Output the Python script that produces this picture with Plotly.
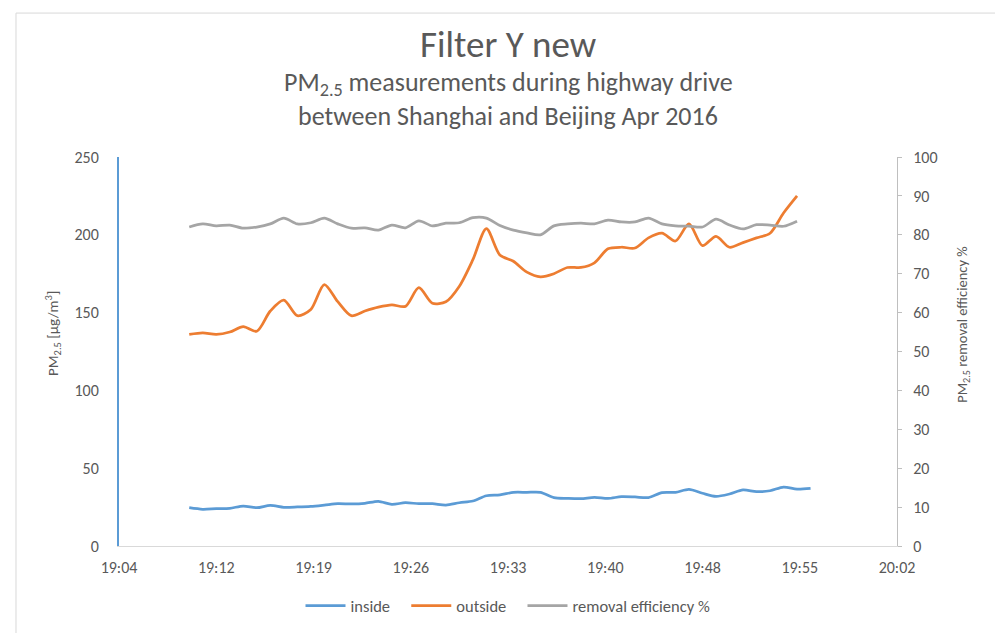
import plotly.graph_objects as go

# ---- data ----
times = ["19:10", "19:11", "19:12", "19:13", "19:14", "19:15", "19:16", "19:17", "19:18", "19:19",
         "19:20", "19:21", "19:22", "19:23", "19:24", "19:25", "19:26", "19:27", "19:28", "19:29",
         "19:30", "19:31", "19:32", "19:33", "19:34", "19:35", "19:36", "19:37", "19:38", "19:39",
         "19:40", "19:41", "19:42", "19:43", "19:44", "19:45", "19:46", "19:47", "19:48", "19:49",
         "19:50", "19:51", "19:52", "19:53", "19:54", "19:55", "19:56"]

inside = [24.6, 23.6, 24.0, 24.2, 25.7, 24.6, 26.1, 24.9, 25.1, 25.5,
          26.3, 27.2, 27.0, 27.4, 28.7, 26.8, 27.8, 27.2, 27.2, 26.3,
          27.8, 28.9, 32.3, 32.8, 34.5, 34.5, 34.5, 31.1, 30.6, 30.4,
          31.3, 30.6, 31.7, 31.5, 31.1, 34.3, 34.5, 36.4, 33.9, 31.9,
          33.4, 36.0, 34.9, 35.5, 37.9, 36.6, 37.1]

outside = [136, 137, 136, 137.5, 141, 138, 151, 158, 148, 152,
           168, 157, 148, 151, 153.5, 155, 154, 166, 156, 157,
           167, 184, 204, 187, 183, 176, 173, 175, 179, 179,
           182, 191, 192, 191.5, 198, 201, 196, 207, 193, 199,
           192, 195, 198, 201, 214, 225]

efficiency = [82.0, 82.8, 82.3, 82.5, 81.7, 82.0, 82.8, 84.3, 82.8, 83.1,
              84.3, 82.8, 81.7, 81.8, 81.2, 82.5, 81.8, 83.6, 82.3, 83.0,
              83.1, 84.4, 84.3, 82.4, 81.2, 80.5, 80.0, 82.3, 82.8, 83.0,
              82.8, 83.8, 83.3, 83.3, 84.3, 82.8, 82.3, 82.2, 82.0, 84.0,
              82.5, 81.5, 82.6, 82.5, 82.2, 83.5]

x_tick_times = ["19:04:48", "19:12:00", "19:19:12", "19:26:24", "19:33:36",
                "19:40:48", "19:48:00", "19:55:12", "20:02:24"]
x_tick_labels = ["19:04", "19:12", "19:19", "19:26", "19:33", "19:40", "19:48", "19:55", "20:02"]

DAY = "2016-04-01 "
FONT = "Carlito, Calibri, Lato, sans-serif"
TXT = "#595959"
PAD = "\u00a0" * 3

x_in = [DAY + t for t in times]
x_out = [DAY + t for t in times[:len(outside)]]
x_eff = [DAY + t for t in times[:len(efficiency)]]

fig = go.Figure()
fig.add_trace(go.Scatter(x=x_in, y=inside, name="inside" + PAD, mode="lines",
                         line=dict(color="#5B9BD5", width=2.75, shape="spline", smoothing=0.8)))
fig.add_trace(go.Scatter(x=x_out, y=outside, name="outside" + PAD, mode="lines",
                         line=dict(color="#ED7D31", width=2.75, shape="spline", smoothing=0.8)))
fig.add_trace(go.Scatter(x=x_eff, y=efficiency, name="removal efficiency %", mode="lines", yaxis="y2",
                         line=dict(color="#A5A5A5", width=2.75, shape="spline", smoothing=0.8)))

fig.update_layout(
    width=1003, height=633,
    margin=dict(l=111, r=114, t=149, b=95),
    paper_bgcolor="white", plot_bgcolor="white",
    font=dict(family=FONT, color=TXT, size=16),
    showlegend=True,
    legend=dict(orientation="h", x=0.5, xanchor="center", y=-0.154, yanchor="middle",
                itemwidth=40, font=dict(size=16.5, color=TXT), bgcolor="rgba(0,0,0,0)"),
    xaxis=dict(type="date",
               range=[DAY + x_tick_times[0], DAY + x_tick_times[-1]],
               tickmode="array", tickvals=[DAY + t for t in x_tick_times], ticktext=x_tick_labels,
               showgrid=False, zeroline=False, showline=True, linecolor="#D9D9D9", linewidth=1,
               ticks="", ticklabelstandoff=7, tickfont=dict(size=16, color=TXT)),
    yaxis=dict(range=[0, 250], dtick=50, showgrid=False, zeroline=False,
               showline=True, linecolor="#5B9BD5", linewidth=2, ticks="",
               ticklabelstandoff=15, tickfont=dict(size=16, color=TXT)),
    yaxis2=dict(range=[0, 100], dtick=10, overlaying="y", side="right", showgrid=False, zeroline=False,
                showline=True, linecolor="#BFBFBF", linewidth=1, ticks="outside", ticklen=4,
                tickcolor="#BFBFBF", ticklabelstandoff=8, tickfont=dict(size=16, color=TXT)),
    annotations=[
        dict(text="Filter Y new", xref="paper", yref="paper", x=0.5, y=1.288,
             xanchor="center", yanchor="middle", showarrow=False, font=dict(size=37, color=TXT)),
        dict(text="PM<sub>2.5</sub> measurements during highway drive",
             xref="paper", yref="paper", x=0.5, y=1.188, xanchor="center", yanchor="middle",
             showarrow=False, font=dict(size=26, color=TXT)),
        dict(text="between Shanghai and Beijing Apr 2016",
             xref="paper", yref="paper", x=0.5, y=1.106, xanchor="center", yanchor="middle",
             showarrow=False, font=dict(size=26, color=TXT)),
        dict(text="PM<sub>2.5</sub> [µg/m<sup>3</sup>]", xref="paper", yref="paper",
             x=-0.0848, y=0.545, xanchor="center", yanchor="middle", textangle=-90,
             showarrow=False, font=dict(size=15, color=TXT)),
        dict(text="PM<sub>2.5</sub> removal efficiency %", xref="paper", yref="paper",
             x=1.0848, y=0.571, xanchor="center", yanchor="middle", textangle=-90,
             showarrow=False, font=dict(size=14.5, color=TXT)),
    ],
    shapes=[dict(type="rect", xref="paper", yref="paper", x0=-0.1324, x1=1.1298, y0=-0.25, y1=1.37,
                 line=dict(color="#D9D9D9", width=1), fillcolor="rgba(0,0,0,0)", layer="below")],
)

fig.write_html("out.html")
